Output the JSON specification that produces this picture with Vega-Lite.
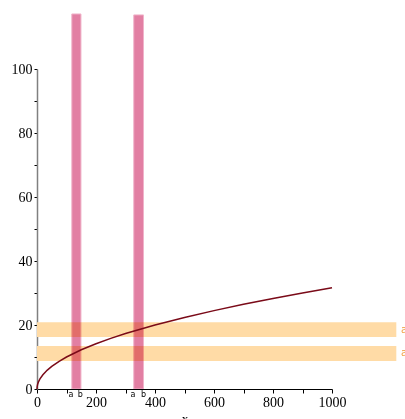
{
  "$schema": "https://vega.github.io/schema/vega-lite/v6.json",
  "width": 295,
  "height": 320,
  "autosize": {"type": "none"},
  "padding": {"left": 37, "top": 69, "right": 73, "bottom": 30},
  "background": "white",
  "config": {"view": {"stroke": null}},
  "datasets": {
    "curve": [
      {"x": 0, "y": 0}, {"x": 0.5, "y": 0.71}, {"x": 2, "y": 1.41}, {"x": 5, "y": 2.24},
      {"x": 10, "y": 3.16}, {"x": 20, "y": 4.47}, {"x": 35, "y": 5.92}, {"x": 50, "y": 7.07},
      {"x": 75, "y": 8.66}, {"x": 100, "y": 10}, {"x": 150, "y": 12.25}, {"x": 200, "y": 14.14},
      {"x": 250, "y": 15.81}, {"x": 300, "y": 17.32}, {"x": 400, "y": 20}, {"x": 500, "y": 22.36},
      {"x": 600, "y": 24.49}, {"x": 700, "y": 26.46}, {"x": 800, "y": 28.28}, {"x": 900, "y": 30},
      {"x": 1000, "y": 31.62}
    ],
    "vbands": [
      {"x0": 118, "x1": 149, "top": 117.2},
      {"x0": 328, "x1": 361, "top": 116.9}
    ],
    "hbands": [
      {"y0": 8.76, "y1": 13.45, "xstart": 0, "xend": 1218},
      {"y0": 16.27, "y1": 20.86, "xstart": 0, "xend": 1218}
    ],
    "blabels": [
      {"x": 115, "y": 0, "label": "a"}, {"x": 147, "y": 0, "label": "b"},
      {"x": 325, "y": 0, "label": "a"}, {"x": 361, "y": 0, "label": "b"}
    ],
    "rlabels": [
      {"x": 1234, "y": 11.1, "label": "a"},
      {"x": 1234, "y": 18.57, "label": "a"}
    ]
  },
  "layer": [
    {
      "data": {"name": "hbands"},
      "mark": {"type": "rect", "color": "#FFDBA6", "clip": false},
      "encoding": {
        "x": {
          "field": "xstart", "type": "quantitative", "scale": {"domain": [0, 1000], "nice": false},
          "axis": {
            "title": "x", "format": "d", "labelFlush": false,
            "values": [0, 100, 200, 300, 400, 500, 600, 700, 800, 900, 1000],
            "labelExpr": "datum.value % 200 === 0 ? datum.label : ''",
            "grid": false, "domainColor": "black", "tickColor": "black", "tickSize": 4,
            "labelFont": "Liberation Serif", "labelFontSize": 14, "labelColor": "black", "labelPadding": 2,
            "titleFont": "Liberation Serif", "titleFontSize": 13, "titleFontWeight": "normal", "titleColor": "black", "titlePadding": 3
          }
        },
        "x2": {"field": "xend"},
        "y": {
          "field": "y0", "type": "quantitative", "scale": {"domain": [0, 100], "nice": false},
          "axis": {
            "title": null, "format": "d", "labelFlush": false,
            "values": [0, 10, 20, 30, 40, 50, 60, 70, 80, 90, 100],
            "labelExpr": "datum.value % 20 === 0 ? datum.label : ''",
            "grid": false, "domainColor": "#808080", "domainWidth": 1.5, "tickColor": "black", "tickSize": 3,
            "labelFont": "Liberation Serif", "labelFontSize": 14, "labelColor": "black", "labelPadding": 2
          }
        },
        "y2": {"field": "y1"}
      }
    },
    {
      "data": {"name": "vbands"},
      "mark": {"type": "rect", "color": "#E27FA3", "blend": "multiply", "stroke": "#F0B4CA", "strokeWidth": 1, "clip": false},
      "encoding": {
        "x": {
          "field": "x0", "type": "quantitative",
          "axis": {
            "title": "x", "format": "d", "labelFlush": false,
            "values": [0, 100, 200, 300, 400, 500, 600, 700, 800, 900, 1000],
            "labelExpr": "datum.value % 200 === 0 ? datum.label : ''",
            "grid": false, "domainColor": "black", "tickColor": "black", "tickSize": 4,
            "labelFont": "Liberation Serif", "labelFontSize": 14, "labelColor": "black", "labelPadding": 2,
            "titleFont": "Liberation Serif", "titleFontSize": 13, "titleFontWeight": "normal", "titleColor": "black", "titlePadding": 3
          }
        },
        "x2": {"field": "x1"},
        "y": {
          "field": "top", "type": "quantitative",
          "axis": {
            "title": null, "format": "d", "labelFlush": false,
            "values": [0, 10, 20, 30, 40, 50, 60, 70, 80, 90, 100],
            "labelExpr": "datum.value % 20 === 0 ? datum.label : ''",
            "grid": false, "domainColor": "#808080", "domainWidth": 1.5, "tickColor": "black", "tickSize": 3,
            "labelFont": "Liberation Serif", "labelFontSize": 14, "labelColor": "black", "labelPadding": 2
          }
        }
      }
    },
    {
      "data": {"name": "curve"},
      "mark": {"type": "line", "color": "#7A0A18", "strokeWidth": 1.5, "clip": false},
      "encoding": {
        "x": {
          "field": "x", "type": "quantitative",
          "axis": {
            "title": "x", "format": "d", "labelFlush": false,
            "values": [0, 100, 200, 300, 400, 500, 600, 700, 800, 900, 1000],
            "labelExpr": "datum.value % 200 === 0 ? datum.label : ''",
            "grid": false, "domainColor": "black", "tickColor": "black", "tickSize": 4,
            "labelFont": "Liberation Serif", "labelFontSize": 14, "labelColor": "black", "labelPadding": 2,
            "titleFont": "Liberation Serif", "titleFontSize": 13, "titleFontWeight": "normal", "titleColor": "black", "titlePadding": 3
          }
        },
        "y": {
          "field": "y", "type": "quantitative",
          "axis": {
            "title": null, "format": "d", "labelFlush": false,
            "values": [0, 10, 20, 30, 40, 50, 60, 70, 80, 90, 100],
            "labelExpr": "datum.value % 20 === 0 ? datum.label : ''",
            "grid": false, "domainColor": "#808080", "domainWidth": 1.5, "tickColor": "black", "tickSize": 3,
            "labelFont": "Liberation Serif", "labelFontSize": 14, "labelColor": "black", "labelPadding": 2
          }
        }
      }
    },
    {
      "data": {"name": "blabels"},
      "mark": {"type": "text", "baseline": "top", "align": "center", "dy": 2, "fontSize": 8, "font": "DejaVu Sans", "color": "black", "clip": false},
      "encoding": {
        "x": {
          "field": "x", "type": "quantitative",
          "axis": {
            "title": "x", "format": "d", "labelFlush": false,
            "values": [0, 100, 200, 300, 400, 500, 600, 700, 800, 900, 1000],
            "labelExpr": "datum.value % 200 === 0 ? datum.label : ''",
            "grid": false, "domainColor": "black", "tickColor": "black", "tickSize": 4,
            "labelFont": "Liberation Serif", "labelFontSize": 14, "labelColor": "black", "labelPadding": 2,
            "titleFont": "Liberation Serif", "titleFontSize": 13, "titleFontWeight": "normal", "titleColor": "black", "titlePadding": 3
          }
        },
        "y": {
          "field": "y", "type": "quantitative",
          "axis": {
            "title": null, "format": "d", "labelFlush": false,
            "values": [0, 10, 20, 30, 40, 50, 60, 70, 80, 90, 100],
            "labelExpr": "datum.value % 20 === 0 ? datum.label : ''",
            "grid": false, "domainColor": "#808080", "domainWidth": 1.5, "tickColor": "black", "tickSize": 3,
            "labelFont": "Liberation Serif", "labelFontSize": 14, "labelColor": "black", "labelPadding": 2
          }
        },
        "text": {"field": "label"}
      }
    },
    {
      "data": {"name": "rlabels"},
      "mark": {"type": "text", "baseline": "middle", "align": "left", "fontSize": 10, "font": "DejaVu Sans", "color": "#F0A040", "clip": false},
      "encoding": {
        "x": {
          "field": "x", "type": "quantitative",
          "axis": {
            "title": "x", "format": "d", "labelFlush": false,
            "values": [0, 100, 200, 300, 400, 500, 600, 700, 800, 900, 1000],
            "labelExpr": "datum.value % 200 === 0 ? datum.label : ''",
            "grid": false, "domainColor": "black", "tickColor": "black", "tickSize": 4,
            "labelFont": "Liberation Serif", "labelFontSize": 14, "labelColor": "black", "labelPadding": 2,
            "titleFont": "Liberation Serif", "titleFontSize": 13, "titleFontWeight": "normal", "titleColor": "black", "titlePadding": 3
          }
        },
        "y": {
          "field": "y", "type": "quantitative",
          "axis": {
            "title": null, "format": "d", "labelFlush": false,
            "values": [0, 10, 20, 30, 40, 50, 60, 70, 80, 90, 100],
            "labelExpr": "datum.value % 20 === 0 ? datum.label : ''",
            "grid": false, "domainColor": "#808080", "domainWidth": 1.5, "tickColor": "black", "tickSize": 3,
            "labelFont": "Liberation Serif", "labelFontSize": 14, "labelColor": "black", "labelPadding": 2
          }
        },
        "text": {"field": "label"}
      }
    }
  ]
}
